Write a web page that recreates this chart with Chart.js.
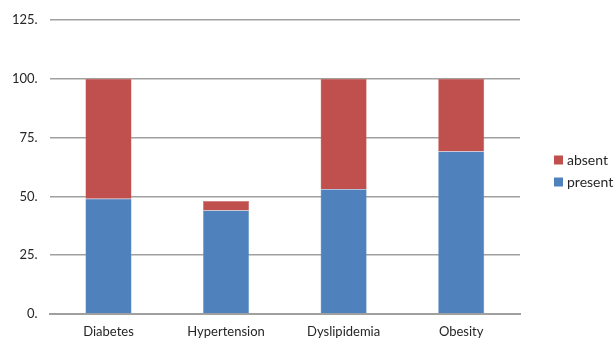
<!DOCTYPE html>
<html>
<head>
<meta charset="utf-8">
<script src="https://cdn.jsdelivr.net/npm/chart.js@4"></script>
<style>
  html, body { margin: 0; padding: 0; background: #fff; }
  #wrap { width: 616px; height: 342px; }
</style>
</head>
<body>
<div id="wrap"><canvas id="c" width="616" height="342"></canvas></div>
<script>
const categories = ['Diabetes', 'Hypertension', 'Dyslipidemia', 'Obesity'];
const presentValues = [49, 44, 53, 69];
const absentValues = [51, 4, 47, 31];
const yTicks = [0, 25, 50, 75, 100, 125];

const fontFamily = 'Lato, "Open Sans", sans-serif';
const textColor = '#262626';

// Legend on the right: series listed top-down in reverse stacking order.
const sideLegend = {
  id: 'sideLegend',
  afterDraw(chart) {
    const ctx = chart.ctx;
    const area = chart.chartArea;
    const sets = chart.data.datasets.slice().reverse();
    const rowGap = 22;
    const box = 9;
    const x = area.right + 34;
    let y = chart.height / 2 - rowGap * (sets.length - 1) / 2;
    ctx.save();
    ctx.font = '14px ' + fontFamily;
    ctx.textBaseline = 'middle';
    ctx.textAlign = 'left';
    sets.forEach(ds => {
      ctx.fillStyle = ds.backgroundColor;
      ctx.fillRect(x, y - box / 2, box, box);
      ctx.fillStyle = textColor;
      ctx.fillText(ds.label, x + box + 4, y);
      y += rowGap;
    });
    ctx.restore();
  }
};

new Chart(document.getElementById('c'), {
  type: 'bar',
  data: {
    labels: categories,
    datasets: [
      { label: 'present', data: presentValues, backgroundColor: '#4F81BD', borderColor: '#6f97c9', borderWidth: 0.5, barPercentage: 0.8, categoryPercentage: 0.49 },
      { label: 'absent', data: absentValues, backgroundColor: '#C0504D', borderColor: '#d0706d', borderWidth: 0.5, barPercentage: 0.8, categoryPercentage: 0.49 }
    ]
  },
  plugins: [sideLegend],
  options: {
    responsive: false,
    animation: false,
    layout: { padding: { top: 12, right: 96, left: 0, bottom: 0 } },
    plugins: {
      tooltip: { enabled: false },
      legend: { display: false }
    },
    scales: {
      x: {
        stacked: true,
        afterFit: (scale) => { scale.height = 28; },
        grid: { display: false, drawTicks: false },
        border: { display: true, color: '#a0a0a0', width: 2 },
        ticks: { color: textColor, padding: 10, font: { family: fontFamily, size: 13 } }
      },
      y: {
        stacked: true,
        min: 0,
        max: 125,
        afterBuildTicks: (axis) => { axis.ticks = yTicks.map(v => ({ value: v })); },
        grid: { color: '#a0a0a0', lineWidth: 1.5, drawTicks: false },
        border: { display: false },
        ticks: {
          color: textColor,
          padding: 12,
          font: { family: fontFamily, size: 13 },
          callback: (v) => v + '.'
        }
      }
    }
  }
});
</script>
</body>
</html>
